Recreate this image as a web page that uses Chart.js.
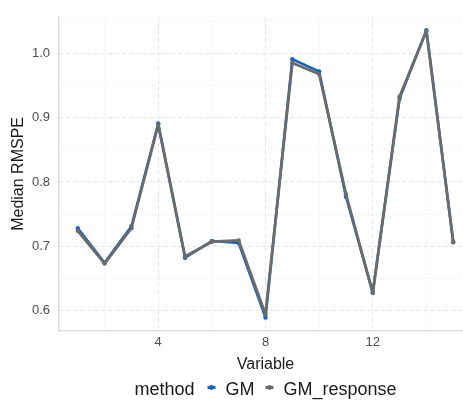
<!DOCTYPE html>
<html>
<head>
<meta charset="utf-8">
<script src="https://cdn.jsdelivr.net/npm/chart.js@4/dist/chart.umd.min.js"></script>
<style>
  html, body { margin: 0; padding: 0; background: #ffffff; }
  #wrap { width: 463px; height: 402px; overflow: hidden; position: relative; }
  canvas { display: block; }
</style>
</head>
<body>
<div id="wrap"><canvas id="chart" width="530" height="402"></canvas></div>
<script>
// Median RMSPE for each variable, by method
const variables = [1, 2, 3, 4, 5, 6, 7, 8, 9, 10, 11, 12, 13, 14, 15];
const gmValues = [0.728, 0.674, 0.731, 0.891, 0.682, 0.708, 0.705, 0.589, 0.991, 0.972, 0.777, 0.628, 0.930, 1.036, 0.707];
const gmResponseValues = [0.724, 0.673, 0.728, 0.889, 0.684, 0.707, 0.709, 0.594, 0.985, 0.968, 0.781, 0.627, 0.933, 1.035, 0.706];

// Axis breaks: labelled (major) and unlabelled (minor) grid positions
const xMajorTicks = [4, 8, 12];
const xMinorTicks = [2, 6, 10, 14];
const yMajorTicks = [0.6, 0.7, 0.8, 0.9, 1.0];
const yMinorTicks = [0.65, 0.75, 0.85, 0.95, 1.05];

const methodTitle = 'method';
const FONT = '"Liberation Sans", Arial, Helvetica, sans-serif';

const isMajor = (list, v) => list.some(m => Math.abs(m - v) < 1e-6);

const gridColor = (majors) => (ctx) =>
  (ctx.tick && isMajor(majors, ctx.tick.value)) ? '#e3e3e3' : '#ededed';
const gridDash = (majors) => (ctx) =>
  (ctx.tick && isMajor(majors, ctx.tick.value)) ? [4, 3] : [1.5, 2.5];

// Inline legend: title followed by the keys, on one row under the axis title
const methodLegend = {
  id: 'methodLegend',
  afterDraw(chart) {
    const ctx = chart.ctx;
    const area = chart.chartArea;
    const sets = chart.data.datasets;
    ctx.save();
    ctx.font = '18px ' + FONT;
    ctx.textBaseline = 'alphabetic';
    ctx.fillStyle = '#1a1a1a';
    const wTitle = ctx.measureText(methodTitle).width;
    const widths = sets.map(s => ctx.measureText(s.label).width);
    let total = wTitle;
    widths.forEach((w, i) => { total += 17 + 14 + w + (i < widths.length - 1 ? -2 : 0); });
    const cx = (area.left + area.right) / 2;
    let x = cx - total / 2;
    const y = 395;
    ctx.fillText(methodTitle, x, y);
    x += wTitle + 17;
    sets.forEach((s, i) => {
      // key: short line segment with a point
      ctx.strokeStyle = s.borderColor;
      ctx.lineWidth = 3;
      ctx.beginPath();
      ctx.moveTo(x - 4, y - 7.5);
      ctx.lineTo(x + 4, y - 7.5);
      ctx.stroke();
      ctx.fillStyle = s.borderColor;
      ctx.beginPath();
      ctx.arc(x, y - 7.5, 2.4, 0, Math.PI * 2);
      ctx.fill();
      ctx.fillStyle = '#1a1a1a';
      ctx.fillText(s.label, x + 14, y);
      x += 14 + widths[i] + 15;
    });
    ctx.restore();
  }
};

const toPoints = (vals) => variables.map((v, i) => ({ x: v, y: vals[i] }));

new Chart(document.getElementById('chart'), {
  type: 'line',
  data: {
    datasets: [
      {
        label: 'GM',
        data: toPoints(gmValues),
        borderColor: '#1565c0',
        backgroundColor: '#1565c0',
        pointBackgroundColor: '#1565c0',
        borderWidth: 2.6,
        borderJoinStyle: 'round',
        borderCapStyle: 'round',
        pointRadius: 2.2,
        pointBorderWidth: 0,
        tension: 0,
        order: 2
      },
      {
        label: 'GM_response',
        data: toPoints(gmResponseValues),
        borderColor: '#6b6b6b',
        backgroundColor: '#6b6b6b',
        pointBackgroundColor: '#6b6b6b',
        borderWidth: 2.8,
        borderJoinStyle: 'round',
        borderCapStyle: 'round',
        pointRadius: 2.2,
        pointBorderWidth: 0,
        tension: 0,
        order: 1
      }
    ]
  },
  options: {
    responsive: false,
    animation: false,
    devicePixelRatio: 1,
    layout: { padding: { top: 7, right: 58, left: 0, bottom: 0 } },
    plugins: {
      legend: { display: false },
      tooltip: { enabled: false }
    },
    scales: {
      x: {
        type: 'linear',
        min: 0.3,
        max: 15.7,
        afterBuildTicks: (scale) => {
          scale.ticks = [...xMinorTicks, ...xMajorTicks].sort((a, b) => a - b).map(v => ({ value: v }));
        },
        afterFit: (scale) => { scale.height = 71; },
        ticks: {
          autoSkip: false,
          maxRotation: 0,
          padding: 4,
          color: '#4d4d4d',
          font: { family: FONT, size: 13 },
          callback: (v) => isMajor(xMajorTicks, v) ? String(v) : ''
        },
        grid: {
          drawTicks: false,
          color: gridColor(xMajorTicks),
          lineWidth: 1
        },
        border: {
          display: true,
          color: '#d9d9d9',
          width: 1.3,
          dash: gridDash(xMajorTicks)
        },
        title: {
          display: true,
          text: 'Variable',
          color: '#1a1a1a',
          font: { family: FONT, size: 16 },
          padding: { top: 0, bottom: 28 }
        }
      },
      y: {
        type: 'linear',
        min: 0.568,
        max: 1.057,
        afterBuildTicks: (scale) => {
          scale.ticks = [...yMajorTicks, ...yMinorTicks].sort((a, b) => a - b).map(v => ({ value: v }));
        },
        afterFit: (scale) => { scale.width = 59; },
        ticks: {
          autoSkip: false,
          padding: 9,
          color: '#4d4d4d',
          font: { family: FONT, size: 13 },
          callback: (v) => isMajor(yMajorTicks, v) ? v.toFixed(1) : ''
        },
        grid: {
          drawTicks: false,
          color: gridColor(yMajorTicks),
          lineWidth: 1
        },
        border: {
          display: true,
          color: '#d9d9d9',
          width: 1.3,
          dash: gridDash(yMajorTicks)
        },
        title: {
          display: true,
          text: 'Median RMSPE',
          color: '#1a1a1a',
          font: { family: FONT, size: 16 },
          padding: { top: 9, bottom: 0 }
        }
      }
    }
  },
  plugins: [methodLegend]
});
</script>
</body>
</html>
